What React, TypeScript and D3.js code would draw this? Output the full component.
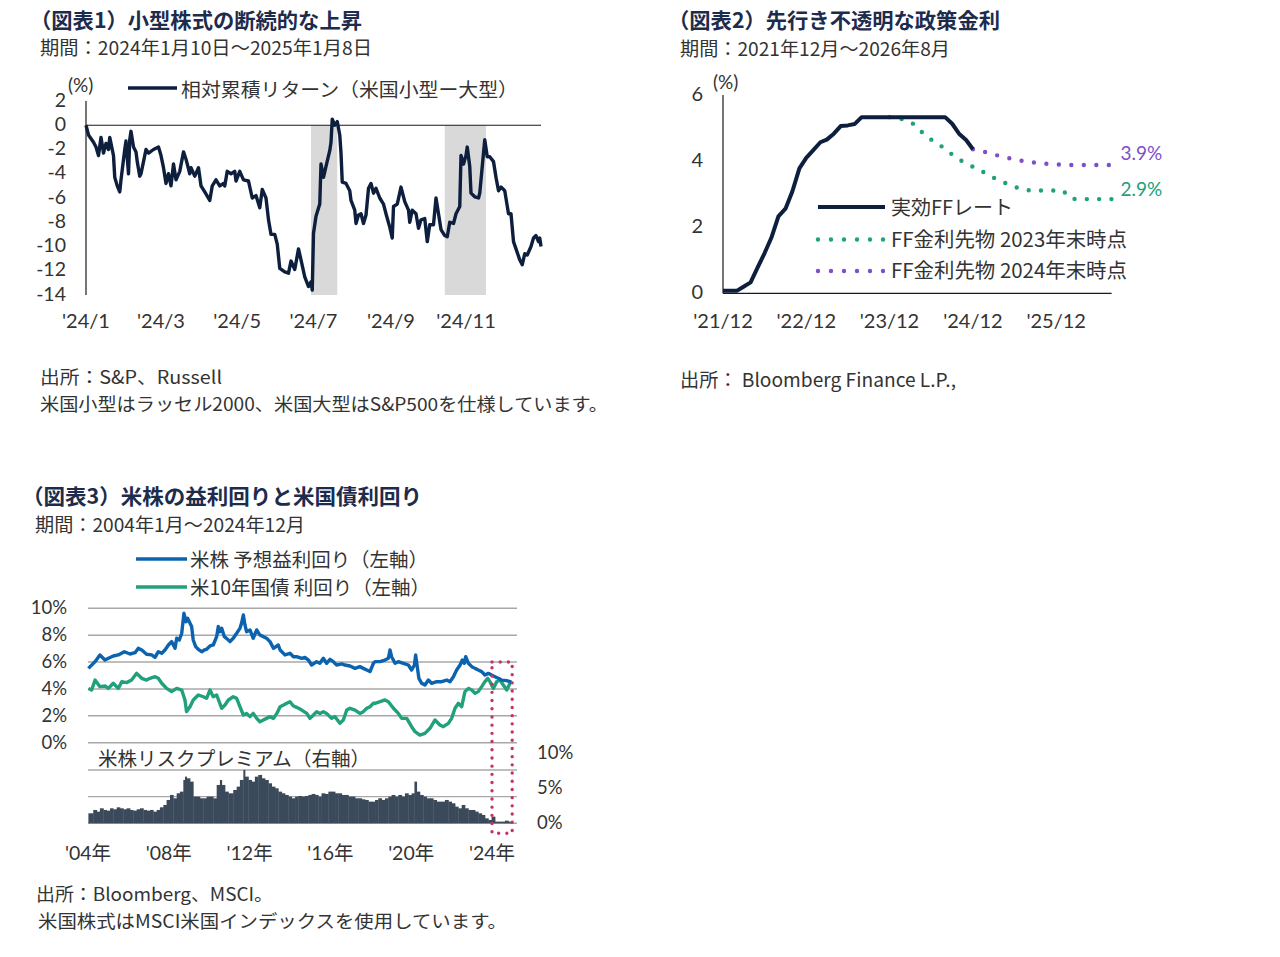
import {line, scaleLinear, scaleTime, timeDay, timeMonth} from "d3";

const FONT = "'Noto Sans CJK JP', 'Noto Sans', sans-serif";
const NUM_FONT = "Lato, 'Noto Sans CJK JP', sans-serif";
const NAVY = "#0d1f3d";
const TITLE_COLOR = "#1d2b4c";
const TEXT_COLOR = "#333333";
const GRID = "#a8a8a8";

// ---- 図表1: relative cumulative return, small - large (days since 2024-01-10, %)
const RETURN_START = new Date(2024, 0, 10);
const RETURN_END = new Date(2025, 0, 8);
const RELATIVE_RETURN: [number, number][] = [
  [0, 0], [2, -0.8], [6, -1.4], [8, -1.8], [10, -2.5], [12, -1.0], [14, -2.3], [16, -1.5], [18, -2.0],
  [19, -1.0], [22, -2.5], [23, -4.3], [25, -5.0], [27, -5.5], [28, -4.5], [31, -2.0], [32, -1.3],
  [34, -4.0], [35, -1.2], [36, -0.5], [38, -1.8], [40, -2.2], [41, -3.0], [43, -4.2], [44, -4.0],
  [46, -3.0], [48, -2.0], [50, -2.3], [54, -2.0], [58, -1.8], [60, -2.5], [62, -3.5], [64, -4.8],
  [66, -4.0], [68, -5.0], [70, -3.2], [72, -4.5], [75, -3.8], [78, -2.2], [80, -2.8], [83, -4.0],
  [84, -3.5], [87, -4.2], [90, -3.5], [92, -5.0], [95, -5.5], [99, -6.2], [101, -5.0], [104, -4.5],
  [107, -5.0], [110, -4.8], [111, -5.0], [113, -3.8], [116, -4.0], [119, -3.8], [120, -4.6],
  [123, -3.8], [126, -4.5], [130, -4.6], [133, -6.0], [136, -5.8], [139, -6.8], [141, -5.3],
  [144, -6.0], [146, -7.8], [148, -9.0], [151, -9.0], [153, -9.8], [155, -11.8], [159, -12.1],
  [162, -12.2], [164, -11.2], [167, -11.9], [170, -10.2], [172, -11.1], [175, -12.5], [178, -13.3],
  [180, -12.9], [181, -13.6], [182, -8.9], [184, -7.5], [187, -6.5], [188, -3.2], [190, -4.3],
  [192, -3.4], [195, -2.1], [196, -1.4], [197, 0.5], [199, 0.0], [201, 0.3], [203, -0.8],
  [204, -2.3], [205, -4.7], [208, -4.8], [211, -5.4], [212, -6.2], [215, -7.0], [216, -8.1],
  [218, -7.4], [220, -7.3], [222, -8.1], [224, -7.4], [226, -5.2], [228, -4.8], [230, -5.6],
  [232, -5.2], [235, -6.0], [238, -6.5], [240, -7.3], [243, -8.4], [245, -9.3], [246, -6.7],
  [249, -6.5], [252, -5.1], [255, -6.3], [258, -7.0], [259, -8.0], [261, -7.0], [264, -7.3],
  [266, -8.5], [268, -7.8], [271, -7.7], [273, -9.6], [275, -8.2], [278, -8.2], [280, -6.0],
  [282, -7.3], [284, -8.6], [287, -9.1], [289, -9.2], [291, -8.0], [294, -8.1], [296, -7.3],
  [299, -6.7], [300, -2.5], [302, -3.2], [304, -2.5], [305, -1.8], [307, -3.4], [308, -5.6],
  [311, -5.9], [314, -6.0], [315, -5.6], [317, -3.4], [319, -1.2], [321, -2.6], [323, -2.6],
  [326, -3.0], [328, -4.3], [330, -5.4], [332, -5.1], [335, -5.4], [338, -7.3], [340, -7.3],
  [342, -9.6], [344, -10.2], [347, -11.1], [349, -11.5], [351, -10.6], [353, -10.7], [356, -10.0],
  [358, -9.3], [360, -9.1], [362, -9.6], [363, -9.3], [364, -10.0]
];
const SHADED_PERIODS: [number, number][] = [[180, 201], [287, 320]];
const RETURN_Y_TICKS = [2, 0, -2, -4, -6, -8, -10, -12, -14];
const RETURN_X_TICKS: [number, string][] = [
  [0, "'24/1"], [60, "'24/3"], [121, "'24/5"], [182, "'24/7"], [244, "'24/9"], [304, "'24/11"]
];

// ---- 図表2: policy rate (monthly from 2021/12, %)
const FF_START = new Date(2021, 11, 1);
const FF_END = new Date(2026, 7, 1);
const EFFECTIVE_FF = [
  0.08, 0.08, 0.08, 0.2, 0.33, 0.77, 1.21, 1.68, 2.33, 2.56, 3.08, 3.78, 4.1, 4.33, 4.57, 4.65, 4.83,
  5.06, 5.08, 5.12, 5.33, 5.33, 5.33, 5.33, 5.33, 5.33, 5.33, 5.33, 5.33, 5.33, 5.33, 5.33, 5.33,
  5.13, 4.83, 4.64, 4.36
];
const FUTURES_2023_START = 24;
const FUTURES_2023 = [
  5.33, 5.3, 5.26, 5.19, 5.04, 4.8, 4.65, 4.54, 4.35, 4.2, 4.05, 3.93, 3.83, 3.72, 3.61, 3.5, 3.4,
  3.31, 3.22, 3.16, 3.12, 3.11, 3.11, 3.11, 3.11, 3.1, 2.87, 2.85, 2.85, 2.85, 2.85, 2.85, 2.85
];
const FUTURES_2024_START = 36;
const FUTURES_2024 = [
  4.36, 4.31, 4.26, 4.2, 4.15, 4.1, 4.05, 4.01, 3.98, 3.95, 3.93, 3.91, 3.9, 3.89, 3.88, 3.88, 3.88,
  3.88, 3.88, 3.88, 3.88
];
const FF_Y_TICKS = [0, 2, 4, 6];
const FF_X_TICKS: [number, string][] = [[0, "'21/12"], [12, "'22/12"], [24, "'23/12"], [36, "'24/12"], [48, "'25/12"]];

// ---- 図表3: earnings yield, 10y yield, risk premium ([year, %])
const EARNINGS_YIELD: [number, number][] = [
  [2004.02, 5.53], [2004.35, 6.03], [2004.59, 6.53], [2004.84, 6.15], [2005.01, 6.28], [2005.25, 6.45],
  [2005.5, 6.53], [2005.8, 6.77], [2006.08, 6.6], [2006.33, 6.7], [2006.49, 7.02], [2006.66, 6.9],
  [2006.9, 6.58], [2007.15, 6.53], [2007.32, 6.35], [2007.48, 6.77], [2007.65, 6.65], [2007.81, 6.9],
  [2007.98, 7.27], [2008.14, 7.52], [2008.31, 7.02], [2008.39, 7.77], [2008.52, 7.64], [2008.64, 8.14],
  [2008.75, 9.63], [2008.85, 9.0], [2008.93, 9.26], [2009.05, 8.88], [2009.13, 8.64], [2009.21, 7.64],
  [2009.33, 7.15], [2009.46, 6.95], [2009.63, 6.77], [2009.76, 6.9], [2009.87, 6.95], [2010.04, 7.2],
  [2010.2, 7.27], [2010.37, 7.89], [2010.45, 8.64], [2010.53, 8.26], [2010.62, 8.51], [2010.75, 7.89],
  [2010.95, 7.64], [2011.03, 7.52], [2011.19, 7.77], [2011.36, 8.14], [2011.52, 8.51], [2011.6, 8.88],
  [2011.69, 9.5], [2011.77, 8.76], [2011.85, 8.26], [2012.02, 8.39], [2012.18, 7.77], [2012.35, 8.39],
  [2012.51, 8.01], [2012.68, 7.89], [2012.84, 7.77], [2013.01, 7.52], [2013.18, 7.02], [2013.42, 7.27],
  [2013.51, 6.9], [2013.75, 6.53], [2014.0, 6.65], [2014.17, 6.4], [2014.33, 6.4], [2014.58, 6.28],
  [2014.74, 6.35], [2014.91, 6.15], [2015.07, 5.78], [2015.32, 6.03], [2015.48, 5.91], [2015.65, 6.28],
  [2015.81, 5.91], [2015.98, 6.2], [2016.14, 6.03], [2016.31, 5.78], [2016.56, 5.86], [2016.72, 5.78],
  [2016.97, 5.71], [2017.22, 5.53], [2017.46, 5.66], [2017.63, 5.53], [2017.8, 5.41], [2017.96, 5.29],
  [2018.13, 5.91], [2018.21, 6.03], [2018.46, 6.03], [2018.7, 6.15], [2018.87, 6.28], [2018.95, 6.9],
  [2019.03, 6.4], [2019.2, 5.91], [2019.36, 6.03], [2019.61, 5.91], [2019.86, 5.78], [2020.02, 5.41],
  [2020.16, 5.78], [2020.22, 6.53], [2020.3, 5.66], [2020.38, 4.79], [2020.52, 4.42], [2020.68, 4.29],
  [2020.85, 4.66], [2021.01, 4.42], [2021.26, 4.54], [2021.51, 4.54], [2021.76, 4.66], [2021.92, 4.54],
  [2022.09, 4.91], [2022.25, 5.41], [2022.42, 5.78], [2022.53, 6.15], [2022.63, 5.91], [2022.7, 6.4],
  [2022.83, 5.91], [2023.0, 5.66], [2023.16, 5.53], [2023.32, 5.41], [2023.49, 5.29], [2023.65, 5.04],
  [2023.82, 5.16], [2023.98, 5.04], [2024.15, 4.91], [2024.31, 4.79], [2024.48, 4.66], [2024.73, 4.62],
  [2024.89, 4.54], [2024.97, 4.54]
];
const TREASURY_10Y: [number, number][] = [
  [2004.02, 4.04], [2004.18, 3.92], [2004.35, 4.66], [2004.59, 4.17], [2004.84, 4.22], [2005.01, 4.04],
  [2005.25, 4.42], [2005.5, 4.04], [2005.67, 4.54], [2005.91, 4.47], [2006.16, 4.66], [2006.41, 5.16],
  [2006.66, 4.79], [2006.9, 4.66], [2007.07, 4.79], [2007.32, 4.91], [2007.48, 4.79], [2007.65, 4.42],
  [2007.89, 4.04], [2008.14, 3.8], [2008.39, 4.04], [2008.64, 3.92], [2008.8, 3.18], [2008.88, 2.31],
  [2009.05, 2.68], [2009.21, 3.18], [2009.46, 3.55], [2009.71, 3.42], [2009.87, 3.3], [2010.04, 3.92],
  [2010.2, 3.42], [2010.37, 3.55], [2010.62, 2.56], [2010.78, 2.8], [2010.95, 3.18], [2011.19, 3.42],
  [2011.36, 3.3], [2011.52, 2.68], [2011.69, 2.06], [2011.85, 2.18], [2012.02, 1.94], [2012.18, 2.18],
  [2012.35, 1.81], [2012.51, 1.56], [2012.68, 1.69], [2012.84, 1.81], [2013.01, 1.94], [2013.18, 1.81],
  [2013.35, 2.18], [2013.51, 2.68], [2013.68, 2.8], [2013.84, 2.93], [2014.0, 3.05], [2014.17, 2.73],
  [2014.33, 2.63], [2014.58, 2.43], [2014.83, 2.18], [2014.99, 1.81], [2015.16, 2.06], [2015.32, 2.31],
  [2015.48, 2.18], [2015.65, 2.31], [2015.81, 2.18], [2016.06, 1.81], [2016.22, 1.94], [2016.47, 1.44],
  [2016.64, 1.69], [2016.81, 2.43], [2016.97, 2.56], [2017.22, 2.43], [2017.46, 2.18], [2017.63, 2.31],
  [2017.8, 2.56], [2017.96, 2.68], [2018.13, 2.93], [2018.21, 2.93], [2018.46, 3.05], [2018.7, 3.18],
  [2018.87, 3.05], [2019.12, 2.56], [2019.36, 2.18], [2019.53, 1.81], [2019.78, 1.81], [2020.02, 1.19],
  [2020.19, 0.82], [2020.43, 0.57], [2020.68, 0.69], [2020.93, 1.07], [2021.18, 1.69], [2021.42, 1.32],
  [2021.59, 1.19], [2021.84, 1.44], [2022.0, 1.81], [2022.17, 2.56], [2022.33, 2.93], [2022.5, 2.68],
  [2022.66, 3.8], [2022.83, 4.04], [2023.0, 3.92], [2023.16, 3.67], [2023.32, 3.8], [2023.49, 4.17],
  [2023.65, 4.54], [2023.79, 4.79], [2023.9, 4.54], [2024.07, 4.04], [2024.23, 4.54], [2024.4, 4.66],
  [2024.56, 4.29], [2024.73, 3.92], [2024.89, 4.42], [2024.97, 4.54]
];
const RISK_PREMIUM: [number, number][] = [
  [2004.02, 1.5], [2004.26, 2.0], [2004.43, 1.75], [2004.59, 2.25], [2004.76, 2.0], [2004.92, 1.9],
  [2005.09, 2.25], [2005.25, 2.1], [2005.42, 2.4], [2005.58, 2.25], [2005.75, 2.1], [2005.91, 2.25],
  [2006.08, 2.0], [2006.24, 1.9], [2006.41, 2.1], [2006.57, 2.25], [2006.74, 2.0], [2006.9, 1.9],
  [2007.07, 2.0], [2007.23, 1.75], [2007.4, 2.0], [2007.56, 2.4], [2007.73, 2.75], [2007.89, 3.5],
  [2008.06, 4.25], [2008.22, 3.75], [2008.39, 4.5], [2008.55, 4.75], [2008.72, 6.5], [2008.8, 7.0],
  [2008.88, 6.75], [2009.05, 6.25], [2009.21, 4.0], [2009.38, 4.0], [2009.54, 3.75], [2009.71, 3.75],
  [2009.87, 4.0], [2010.04, 4.0], [2010.2, 3.75], [2010.37, 5.75], [2010.53, 6.5], [2010.62, 5.75],
  [2010.78, 4.75], [2010.95, 4.5], [2011.19, 5.0], [2011.36, 5.5], [2011.52, 6.5], [2011.69, 8.0],
  [2011.77, 7.0], [2011.94, 6.5], [2012.1, 6.25], [2012.26, 7.0], [2012.43, 7.25], [2012.6, 6.75],
  [2012.76, 6.5], [2012.93, 6.0], [2013.09, 5.5], [2013.26, 5.25], [2013.42, 4.75], [2013.59, 4.5],
  [2013.75, 4.25], [2013.92, 4.0], [2014.08, 3.75], [2014.25, 4.0], [2014.41, 4.1], [2014.58, 4.0],
  [2014.74, 4.1], [2014.91, 4.25], [2015.07, 4.4], [2015.24, 4.25], [2015.4, 4.0], [2015.56, 4.5],
  [2015.73, 4.4], [2015.9, 4.75], [2016.06, 4.75], [2016.23, 4.5], [2016.39, 4.5], [2016.56, 4.25],
  [2016.72, 4.25], [2016.89, 4.0], [2017.06, 4.0], [2017.22, 3.75], [2017.39, 3.75], [2017.55, 3.6],
  [2017.71, 3.5], [2017.88, 3.25], [2018.04, 3.25], [2018.21, 3.5], [2018.37, 3.75], [2018.54, 3.5],
  [2018.7, 3.75], [2018.87, 4.0], [2019.03, 4.25], [2019.2, 4.0], [2019.36, 4.25], [2019.53, 4.0],
  [2019.69, 4.5], [2019.86, 4.25], [2020.02, 4.5], [2020.16, 6.25], [2020.27, 4.75], [2020.43, 4.25],
  [2020.6, 4.0], [2020.76, 3.75], [2020.93, 3.75], [2021.09, 3.5], [2021.26, 3.25], [2021.51, 3.25],
  [2021.67, 3.5], [2021.84, 3.25], [2022.0, 3.0], [2022.17, 2.5], [2022.33, 2.25], [2022.5, 2.75],
  [2022.66, 2.25], [2022.83, 2.0], [2023.0, 2.0], [2023.16, 1.75], [2023.32, 1.5], [2023.49, 1.25],
  [2023.65, 0.75], [2023.82, 0.5], [2023.98, 1.0], [2024.15, 0.25], [2024.31, 0.25], [2024.48, 0.25],
  [2024.64, 0.4], [2024.81, 0.25], [2024.97, 0.1]
];
const YIELD_TICKS = [0, 2, 4, 6, 8, 10];
const PREMIUM_GRID = [0, 4, 8];
const PREMIUM_LABELS = [0, 5, 10];
const YEAR_TICKS = [2004, 2008, 2012, 2016, 2020, 2024];
const HIGHLIGHT_YEARS: [number, number] = [2024, 2025];

const BLUE = "#0b63b0";
const GREEN = "#20a07b";
const SLATE = "#3b4a5b";
const PURPLE = "#7d4fcb";
const RED_DOT = "#c4326a";

function T({x, y, size = 19, anchor = "start", color = TEXT_COLOR, weight = 400, length, family, children}: {
  x: number; y: number; size?: number; anchor?: string; color?: string; weight?: number; length?: number;
  family?: string; children: any;
}) {
  return (
    <text
      x={x}
      y={y}
      fontSize={size}
      textAnchor={anchor as any}
      fill={color}
      fontWeight={weight}
      fontFamily={family}
      dominantBaseline="central"
      textLength={length}
      lengthAdjust={length ? "spacingAndGlyphs" : undefined}
    >
      {children}
    </text>
  );
}

function ReturnChart() {
  const x = scaleTime().domain([RETURN_START, RETURN_END]).range([86, 541]);
  const y = scaleLinear().domain([-14, 2]).range([295, 101]);
  const day = (d: number) => timeDay.offset(RETURN_START, d);
  const path = line<[number, number]>().x((d) => x(day(d[0]))).y((d) => y(d[1]));

  return (
    <g>
      <T x={30} y={19} size={21} weight={700} color={TITLE_COLOR} length={332}>（図表1）小型株式の断続的な上昇</T>
      <T x={40} y={46.5} length={332}>期間：2024年1月10日～2025年1月8日</T>

      {SHADED_PERIODS.map(([a, b]) => (
        <rect key={a} x={x(day(a))} y={y(0)} width={x(day(b)) - x(day(a))} height={y(-14) - y(0)} fill="#d9d9d9" />
      ))}
      <line x1={x(RETURN_START)} x2={x(RETURN_END)} y1={y(0)} y2={y(0)} stroke="#1a1a1a" strokeWidth={1.2} />
      <line x1={x(RETURN_START)} x2={x(RETURN_START)} y1={y(2)} y2={y(-14)} stroke="#1a1a1a" strokeWidth={1.2} />

      {RETURN_Y_TICKS.map((t) => (
        <T key={t} x={66} y={y(t) - 2} size={19.5} anchor="end" family={NUM_FONT}>{t}</T>
      ))}
      {RETURN_X_TICKS.map(([d, label]) => (
        <T key={label} x={x(day(d))} y={320} size={20} anchor="middle" family={NUM_FONT}>{label}</T>
      ))}
      <T x={68} y={84} size={19} family={NUM_FONT}>(%)</T>

      <path d={path(RELATIVE_RETURN) ?? ""} fill="none" stroke={NAVY} strokeWidth={3.4} strokeLinejoin="round" />

      <line x1={128} x2={177} y1={88} y2={88} stroke={NAVY} strokeWidth={3.6} />
      <T x={181} y={88} size={19} length={337}>相対累積リターン（米国小型ー大型）</T>

      <T x={40} y={375.5} size={18} length={182}>出所：S&amp;P、Russell</T>
      <T x={40} y={402.5} size={18} length={568}>米国小型はラッセル2000、米国大型はS&amp;P500を仕様しています。</T>
    </g>
  );
}

function PolicyRateChart() {
  const x = scaleTime().domain([FF_START, FF_END]).range([723, 1111.6]);
  const y = scaleLinear().domain([0, 6]).range([293.3, 95]);
  const month = (m: number) => timeMonth.offset(FF_START, m);
  const path = (start: number) => line<number>().x((_, i) => x(month(start + i))).y((d) => y(d));
  const end2023 = FUTURES_2023[FUTURES_2023.length - 1];
  const end2024 = FUTURES_2024[FUTURES_2024.length - 1];

  return (
    <g>
      <T x={668} y={19} size={21} weight={700} color={TITLE_COLOR} length={332}>（図表2）先行き不透明な政策金利</T>
      <T x={680} y={47.5} length={270}>期間：2021年12月～2026年8月</T>

      <line x1={x(FF_START)} x2={x(FF_START)} y1={y(6)} y2={y(0)} stroke="#1a1a1a" strokeWidth={1.2} />
      <line x1={x(FF_START)} x2={x(FF_END)} y1={y(0)} y2={y(0)} stroke="#1a1a1a" strokeWidth={1.2} />
      {FF_Y_TICKS.map((t) => (
        <T key={t} x={703} y={y(t) - 2} size={20} anchor="end" family={NUM_FONT}>{t}</T>
      ))}
      {FF_X_TICKS.map(([m, label]) => (
        <T key={label} x={x(month(m))} y={320} size={20} anchor="middle" family={NUM_FONT}>{label}</T>
      ))}
      <T x={713} y={81} size={19} family={NUM_FONT}>(%)</T>

      <path d={path(FUTURES_2023_START)(FUTURES_2023) ?? ""} fill="none" stroke={GREEN} strokeWidth={4.4}
        strokeLinecap="round" strokeDasharray="0 12.3" />
      <path d={path(FUTURES_2024_START)(FUTURES_2024) ?? ""} fill="none" stroke={PURPLE} strokeWidth={4.4}
        strokeLinecap="round" strokeDasharray="0 12.5" />
      <path d={path(0)(EFFECTIVE_FF) ?? ""} fill="none" stroke={NAVY} strokeWidth={4} strokeLinejoin="round" />

      <T x={x(FF_END) + 9} y={y(end2024) - 13} size={19} color={PURPLE} family={NUM_FONT}>{`${end2024.toFixed(1)}%`}</T>
      <T x={x(FF_END) + 9} y={y(end2023) - 11} size={19} color={GREEN} family={NUM_FONT}>{`${end2023.toFixed(1)}%`}</T>

      <line x1={818} x2={885} y1={207} y2={207} stroke={NAVY} strokeWidth={4} />
      <T x={891} y={206} size={20}>実効FFレート</T>
      <line x1={818} x2={885} y1={239.5} y2={239.5} stroke={GREEN} strokeWidth={4.4} strokeLinecap="round" strokeDasharray="0 13" />
      <T x={891} y={238} size={20} length={236}>FF金利先物 2023年末時点</T>
      <line x1={818} x2={885} y1={271} y2={271} stroke={PURPLE} strokeWidth={4.4} strokeLinecap="round" strokeDasharray="0 13" />
      <T x={891} y={269} size={20} length={236}>FF金利先物 2024年末時点</T>

      <T x={680} y={378} length={276}>出所： Bloomberg Finance L.P.,</T>
    </g>
  );
}

function YieldChart() {
  const x = scaleLinear().domain([2004, 2025]).range([88, 512.2]);
  const yTop = scaleLinear().domain([0, 10]).range([742.7, 608.3]);
  const yBot = scaleLinear().domain([0, 12]).range([823.3, 743.3]);
  const yRightLabel = scaleLinear().domain([0, 10]).range([821.7, 751.7]);
  const path = line<[number, number]>().x((d) => x(d[0])).y((d) => yTop(d[1]));
  const gridEnd = 517;

  return (
    <g>
      <T x={22} y={495} size={21} weight={700} color={TITLE_COLOR} length={400}>（図表3）米株の益利回りと米国債利回り</T>
      <T x={35} y={523} length={270}>期間：2004年1月～2024年12月</T>

      <line x1={136} x2={187} y1={559} y2={559} stroke={BLUE} strokeWidth={3.6} />
      <T x={190} y={558} size={19.5} length={238}>米株 予想益利回り（左軸）</T>
      <line x1={136} x2={187} y1={587} y2={587} stroke={GREEN} strokeWidth={3.6} />
      <T x={190} y={586} size={19.5} length={240}>米10年国債 利回り（左軸）</T>

      {YIELD_TICKS.map((t) => (
        <g key={t}>
          <line x1={x(2004)} x2={gridEnd} y1={yTop(t)} y2={yTop(t)} stroke={GRID} strokeWidth={1.4} />
          <T x={67} y={yTop(t) - 1} size={18.5} anchor="end" family={NUM_FONT}>{`${t}%`}</T>
        </g>
      ))}
      {PREMIUM_GRID.map((t) => (
        <line key={t} x1={x(2004)} x2={gridEnd} y1={yBot(t)} y2={yBot(t)} stroke={GRID} strokeWidth={1.4} />
      ))}
      {PREMIUM_LABELS.map((t) => (
        <T key={t} x={537} y={yRightLabel(t)} size={18.5} family={NUM_FONT}>{`${t}%`}</T>
      ))}

      {RISK_PREMIUM.map(([yr, v], i) => {
        const next = i < RISK_PREMIUM.length - 1 ? RISK_PREMIUM[i + 1][0] : 2025;
        return (
          <rect key={yr} x={x(yr)} y={yBot(v)} width={x(next) - x(yr) + 0.4} height={yBot(0) - yBot(v)} fill={SLATE} />
        );
      })}
      <T x={98} y={757} size={19.5} length={272}>米株リスクプレミアム（右軸）</T>

      <path d={path(TREASURY_10Y) ?? ""} fill="none" stroke={GREEN} strokeWidth={3.4} strokeLinejoin="round" />
      <path d={path(EARNINGS_YIELD) ?? ""} fill="none" stroke={BLUE} strokeWidth={3.4} strokeLinejoin="round" />

      <rect
        x={x(HIGHLIGHT_YEARS[0])}
        y={yTop(6)}
        width={x(HIGHLIGHT_YEARS[1]) - x(HIGHLIGHT_YEARS[0])}
        height={yBot(-1.5) - yTop(6)}
        fill="none"
        stroke={RED_DOT}
        strokeWidth={3.4}
        strokeLinecap="round"
        strokeDasharray="0 8.2"
      />

      {YEAR_TICKS.map((yr) => (
        <T key={yr} x={x(yr)} y={852} size={19.5} anchor="middle" family={NUM_FONT}>{`'${String(yr).slice(2)}年`}</T>
      ))}

      <T x={36} y={892.5} size={18} length={237}>出所：Bloomberg、MSCI。</T>
      <T x={38} y={919.5} size={18} length={469}>米国株式はMSCI米国インデックスを使用しています。</T>
    </g>
  );
}

export default function App() {
  return (
    <svg
      width={1280}
      height={957}
      viewBox="0 0 1280 957"
      style={{position: "absolute", left: 0, top: 0, background: "#ffffff", fontFamily: FONT}}
    >
      <rect width={1280} height={957} fill="#ffffff" />
      <ReturnChart />
      <PolicyRateChart />
      <YieldChart />
    </svg>
  );
}
